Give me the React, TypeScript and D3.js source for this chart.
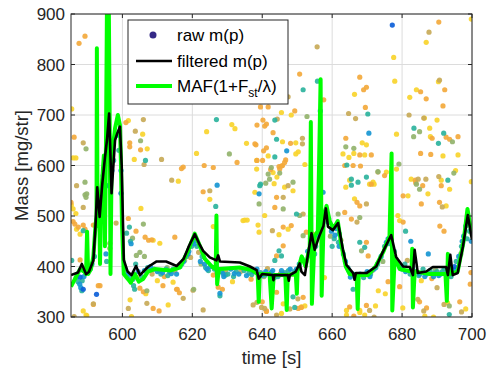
import React from 'react'
import * as d3 from 'd3'

type Pt = [number, number]

// ---- axes ----
const xTicks = [600, 620, 640, 660, 680, 700]
const yTicks = [300, 400, 500, 600, 700, 800, 900]

// ---- raw m(p) samples, grouped by marker colour ----
const yellowPts: Pt[] = [
  [585.5, 712], [585.9, 615], [586.7, 615], [585.4, 522], [586.7, 505], [586.9, 474], [588.8, 312], [589.6, 304],
  [601.7, 689], [605.8, 662], [607.1, 633], [603.4, 612], [605.3, 515], [608.8, 452], [610.7, 446], [602.2, 334],
  [602.6, 301], [606.7, 346], [613.1, 324], [616.0, 569], [621.2, 624], [624.1, 667], [625.0, 533], [626.0, 479],
  [631.3, 681], [632.2, 673], [635.5, 644], [641.7, 619], [638.4, 610], [635.0, 492], [635.7, 492], [645.5, 705],
  [648.3, 700], [645.8, 647], [649.6, 645], [650.3, 627], [649.6, 623], [652.2, 602], [638.4, 593], [643.1, 586],
  [644.2, 577], [646.4, 557], [648.8, 550], [644.8, 463], [647.4, 474], [646.0, 326], [652.2, 322], [663.1, 623],
  [664.8, 616], [666.2, 624], [668.6, 645], [669.8, 641], [669.3, 621], [666.4, 741], [677.6, 814], [677.9, 767],
  [678.4, 662], [675.5, 587], [672.0, 563], [665.0, 571], [686.9, 844], [699.8, 890], [690.4, 766], [684.1, 750],
  [682.2, 735], [686.4, 694], [690.0, 690], [687.9, 674], [688.1, 657], [691.7, 619], [696.0, 621], [695.3, 590],
  [691.2, 571], [699.8, 568], [663.9, 557], [670.7, 563], [666.4, 534], [664.1, 313], [667.9, 313], [664.1, 304],
  [667.9, 309], [669.3, 304], [678.4, 593], [671.7, 567], [682.6, 573], [687.4, 544], [681.7, 540], [693.6, 553],
  [692.6, 520], [678.8, 501], [679.3, 491], [673.2, 352], [672.4, 322], [680.2, 318], [686.5, 302], [693.0, 328],
  [645.5, 307], [651.2, 320], [585.9, 514], [587.9, 464], [589.8, 303], [643.4, 564], [637.9, 547], [640.7, 501],
  [639.1, 468], [614.5, 369], [634.5, 491], [638.8, 482], [698.2, 316], [689.0, 300], [675.2, 346],
  [610.0, 372], [631.5, 370], [657.8, 378], [685.5, 372], [604.2, 378],
]

const orangePts: Pt[] = [
  [589.3, 856], [587.6, 842], [586.2, 656], [601.0, 685], [602.1, 645], [602.1, 637], [605.2, 631], [585.3, 527],
  [585.9, 489], [588.8, 482], [591.7, 482], [587.9, 413], [593.6, 362], [591.7, 325], [601.7, 495], [603.9, 470],
  [606.5, 458], [607.5, 452], [608.4, 453], [605.0, 357], [606.0, 350], [608.8, 317], [610.5, 312], [611.6, 362],
  [615.5, 355], [616.3, 348], [616.9, 594], [623.1, 548], [623.4, 600], [617.4, 597], [626.0, 596], [615.0, 458],
  [628.6, 355], [627.4, 359], [632.8, 606], [638.5, 680], [641.2, 682], [639.5, 716], [638.2, 641], [641.2, 635],
  [638.5, 610], [650.7, 781], [657.6, 730], [641.7, 716], [649.3, 708], [640.2, 690], [640.7, 678], [643.1, 665],
  [648.1, 644], [637.9, 643], [640.4, 629], [640.1, 610], [646.7, 611], [646.4, 606], [644.8, 598], [645.5, 599],
  [642.4, 592], [645.0, 593], [645.8, 600], [644.1, 537], [643.6, 517], [648.3, 481], [646.0, 478], [652.6, 468],
  [654.5, 464], [646.0, 441], [644.1, 421], [644.1, 349], [651.7, 339], [651.2, 319], [650.3, 317], [641.2, 312],
  [663.9, 654], [667.9, 621], [671.2, 621], [666.0, 600], [668.1, 599], [667.9, 775], [669.0, 750], [669.8, 755],
  [669.5, 715], [675.0, 580], [690.5, 884], [692.2, 750], [685.3, 746], [686.9, 732], [691.7, 718], [688.6, 654],
  [692.6, 656], [693.6, 652], [696.0, 657], [685.3, 624], [688.2, 622], [683.8, 571], [683.9, 566], [691.2, 560],
  [685.9, 560], [680.3, 540], [685.5, 524], [690.7, 527], [680.3, 488], [667.1, 527], [667.9, 520], [663.6, 507],
  [665.5, 494], [669.8, 448], [670.3, 421], [665.0, 320], [666.2, 302], [669.8, 323], [679.3, 360], [685.0, 330],
  [687.0, 318], [690.8, 480], [692.0, 470], [699.7, 388], [699.5, 365], [696.5, 330], [663.6, 600], [671.2, 563],
  [586.4, 484], [587.4, 478], [589.3, 474], [593.1, 362], [615.7, 355], [640.0, 330], [641.2, 311], [676.0, 370],
  [612.0, 380], [636.8, 375], [688.5, 376], [626.0, 383],
]

const khakiPts: Pt[] = [
  [588.8, 645], [606.0, 691], [603.7, 668], [606.2, 602], [611.2, 612], [586.2, 301], [598.2, 486], [607.0, 327],
  [617.4, 337], [623.1, 314], [614.1, 571], [625.0, 550], [655.7, 835], [647.4, 736], [644.3, 692], [651.5, 654],
  [651.5, 643], [664.7, 703], [666.7, 693], [687.7, 864], [690.7, 769], [682.0, 700], [690.5, 578], [686.8, 573],
  [647.4, 560], [646.0, 537], [651.7, 504], [642.9, 471], [650.2, 336], [647.9, 316], [644.1, 304], [637.4, 324],
  [640.7, 317], [638.5, 329], [639.8, 319], [669.8, 524], [667.1, 488], [673.1, 587], [684.6, 573], [691.5, 518],
  [620.2, 353], [670.7, 313], [690.0, 358], [692.0, 325], [588.8, 517], [586.9, 560], [601.7, 317], [686.2, 694],
  [591.7, 326], [672.0, 300], [684.5, 335], [686.2, 312], [629.5, 392], [641.5, 396], [660.0, 478], [697.0, 310],
  [619.5, 418], [621.8, 428], [633.8, 390], [645.2, 386], [652.5, 410], [662.5, 452], [681.5, 412], [692.8, 378],
  [608.5, 385], [615.0, 392],
]

const olivePts: Pt[] = [
  [589.6, 633], [605.2, 649], [630.6, 623], [652.8, 697], [642.6, 596], [641.7, 583], [645.0, 585], [641.0, 565],
  [648.8, 567], [666.2, 634], [663.9, 637], [673.1, 588], [679.1, 603], [685.0, 667], [683.3, 657], [694.4, 647],
  [694.8, 585], [589.3, 542], [589.6, 537], [589.3, 567], [589.8, 544], [596.4, 446], [596.4, 436], [602.9, 456],
  [606.0, 484], [607.0, 352], [620.4, 355], [646.0, 514], [650.7, 501], [651.7, 461], [661.7, 504], [667.9, 497],
  [668.4, 431], [639.1, 524], [642.1, 573], [684.1, 563], [685.0, 553], [604.0, 422], [605.0, 428], [606.3, 420],
  [693.5, 322], [655.5, 455], [612.8, 398], [622.5, 405], [636.0, 395], [671.5, 392], [689.5, 395], [617.8, 412],
  [627.0, 388], [640.5, 380], [648.6, 385], [674.5, 410], [696.8, 425], [659.5, 460],
]

const tealPts: Pt[] = [
  [606.6, 610], [626.9, 691], [651.7, 750], [655.8, 767], [643.6, 690], [644.1, 652], [643.6, 617], [639.5, 563],
  [664.2, 601], [665.5, 561], [670.2, 702], [683.4, 674], [691.9, 664], [690.4, 644], [693.1, 571], [601.2, 466],
  [602.3, 450], [603.0, 375], [603.2, 362], [603.5, 355], [626.7, 519], [639.3, 560], [649.8, 504], [644.8, 431],
  [645.5, 421], [643.6, 412], [665.5, 573], [667.4, 567], [669.8, 577], [667.9, 448], [669.3, 438], [649.3, 319],
  [648.8, 340], [666.0, 355], [588.8, 471], [585.5, 412], [588.4, 352], [595.5, 410], [602.0, 478], [693.5, 305],
  [586.8, 378], [587.3, 370], [588.5, 372], [590.8, 395], [592.0, 420], [594.5, 580], [597.5, 610], [599.0, 630],
  [600.8, 395], [602.2, 380], [603.8, 405], [605.5, 380], [607.2, 398], [609.0, 395], [610.5, 392], [612.5, 395],
  [614.5, 395], [616.5, 400], [618.3, 420], [619.8, 440], [621.3, 440], [622.8, 420], [624.6, 392], [626.3, 395],
  [628.3, 390], [630.2, 385], [632.5, 390], [634.8, 392], [637.0, 384], [639.5, 388], [642.0, 385], [644.5, 380],
  [646.5, 388], [649.2, 390], [651.4, 415], [653.8, 455], [655.3, 440], [656.8, 480], [659.0, 495], [660.6, 455],
  [662.0, 465], [663.2, 425], [664.5, 398], [667.0, 380], [669.0, 378], [671.0, 385], [673.0, 405], [675.0, 440],
  [677.8, 430], [679.3, 400], [680.8, 405], [682.3, 385], [684.0, 390], [686.0, 395], [688.0, 392], [690.0, 390],
  [692.0, 395], [694.0, 380], [695.5, 410], [697.0, 440], [698.2, 480], [699.3, 470], [627.9, 342], [681.0, 470],
  [611.0, 385], [613.0, 382], [617.0, 405], [620.0, 448], [623.8, 398], [629.5, 383], [631.8, 380], [636.2, 387],
  [640.8, 383], [643.5, 378], [647.5, 392], [655.0, 425], [657.0, 470], [660.0, 440], [661.8, 448], [672.5, 398],
  [676.5, 445], [684.8, 382], [689.2, 387], [691.5, 390], [695.0, 392], [698.6, 455],
]

const bluePts: Pt[] = [
  [596.0, 759], [647.0, 629], [656.6, 708], [670.5, 664], [627.1, 561], [639.1, 544], [657.4, 547], [595.3, 425],
  [602.5, 445], [627.9, 347], [662.0, 440], [587.8, 365], [588.1, 358], [589.0, 380], [591.3, 405], [593.2, 505],
  [594.0, 520], [595.8, 560], [597.0, 590], [598.5, 660], [599.6, 590], [601.5, 385], [604.5, 390], [606.3, 392],
  [608.0, 400], [611.5, 388], [613.5, 390], [615.5, 385], [617.5, 410], [619.0, 430], [620.5, 445], [622.3, 410],
  [623.5, 405], [625.2, 400], [629.0, 380], [631.0, 395], [633.3, 385], [635.5, 382], [638.5, 395], [641.0, 390],
  [643.0, 392], [645.5, 392], [648.0, 395], [650.6, 405], [653.0, 430], [656.0, 462], [658.3, 510], [659.8, 470],
  [661.3, 475], [663.8, 410], [666.0, 385], [668.0, 385], [670.0, 390], [672.0, 395], [674.0, 420], [676.0, 455],
  [678.5, 410], [680.0, 395], [683.0, 398], [685.0, 385], [687.0, 385], [689.0, 380], [691.0, 385], [693.0, 388],
  [694.8, 395], [696.2, 420], [697.6, 460], [698.8, 500], [699.8, 450], [682.5, 450], [687.5, 425], [665.2, 379],
  [610.0, 390], [614.0, 386], [618.8, 425], [621.0, 452], [624.2, 395], [628.8, 386], [632.0, 386], [637.5, 390],
  [639.8, 382], [642.5, 388], [646.0, 384], [649.8, 395], [654.5, 448], [658.8, 488], [660.8, 462], [664.8, 392],
  [670.8, 380], [675.5, 448], [681.0, 390], [686.5, 380], [690.5, 382], [694.2, 387], [697.2, 450],
]

const navyPts: Pt[] = [
  [677.2, 878], [599.6, 545], [592.6, 345], [587.9, 379], [588.8, 355], [595.0, 560], [657.5, 500], [695.0, 400],
]

// ---- filtered m(p) ----
const filteredLine: Pt[] = [
  [585.3, 383], [587.3, 388], [588.4, 405], [589.6, 385], [590.4, 389], [591.7, 412], [592.3, 480], [592.8, 557],
  [593.5, 498], [594.2, 560], [595.0, 615], [595.6, 651], [596.2, 703], [596.5, 640], [596.9, 545], [597.9, 650],
  [598.6, 665], [599.3, 677], [599.8, 600], [600.4, 413], [601.5, 390], [602.6, 383], [603.9, 401], [605.0, 383],
  [607.3, 399], [609.8, 410], [612.5, 410], [615.5, 401], [617.5, 415], [619.0, 440], [620.7, 464], [622.0, 445],
  [623.1, 431], [625.0, 418], [626.9, 412], [627.4, 422], [627.9, 410], [633.6, 408], [636.5, 400], [638.4, 393],
  [639.0, 376], [640.0, 385], [643.0, 383], [643.2, 373], [643.5, 383], [647.3, 383], [647.6, 372], [647.9, 383],
  [649.6, 390], [650.7, 406], [651.2, 390], [652.2, 383], [653.0, 420], [654.1, 466], [655.0, 433], [656.4, 462],
  [657.5, 480], [658.2, 515], [658.8, 479], [660.2, 472], [661.7, 486], [663.1, 433], [664.1, 403], [666.0, 387],
  [666.4, 374], [666.8, 387], [669.8, 387], [672.6, 400], [674.5, 429], [676.9, 462], [678.3, 419], [680.3, 400],
  [682.2, 399], [683.1, 383], [683.6, 433], [684.5, 387], [686.9, 390], [688.8, 399], [692.6, 399], [693.1, 383],
  [693.8, 423], [694.5, 383], [695.9, 387], [697.4, 439], [698.8, 502], [700.0, 453],
]

// ---- MAF(1+Fst/lambda) ----
const mafLine: Pt[] = [
  [585.3, 360], [586.4, 375], [587.9, 395], [589.0, 390], [589.6, 385], [589.9, 469], [590.2, 385], [591.0, 395],
  [591.7, 420], [592.3, 480], [592.6, 500], [592.7, 832], [592.9, 480], [593.4, 520], [593.6, 405], [593.9, 540],
  [594.3, 580], [594.7, 620], [595.0, 440], [595.3, 640], [595.6, 930], [595.9, 680], [596.1, 930], [596.4, 660],
  [596.6, 385], [596.9, 600], [597.3, 637], [597.9, 674], [598.7, 700], [599.3, 680], [599.6, 600], [599.9, 480],
  [600.4, 385], [601.6, 375], [602.4, 368], [603.6, 385], [604.7, 370], [605.9, 375], [607.3, 390], [609.3, 395],
  [613.6, 392], [616.4, 398], [618.7, 430], [620.7, 465], [622.2, 440], [623.6, 415], [625.6, 400], [626.7, 395],
  [626.9, 501], [627.1, 365], [627.6, 395], [633.6, 398], [637.0, 393], [638.7, 385], [639.0, 330], [639.3, 385],
  [642.1, 385], [642.7, 317], [643.3, 383], [646.6, 383], [647.0, 314], [647.3, 383], [649.6, 385], [649.9, 346],
  [650.1, 390], [651.3, 420], [652.4, 400], [653.6, 440], [653.9, 686], [654.2, 326], [655.0, 460], [655.9, 470],
  [656.7, 771], [657.0, 342], [657.6, 500], [658.4, 520], [659.3, 490], [660.4, 475], [661.6, 490], [662.7, 440],
  [663.9, 400], [665.0, 385], [667.0, 383], [667.3, 316], [667.6, 383], [670.2, 383], [672.4, 400], [674.7, 430],
  [676.4, 460], [677.0, 624], [677.2, 313], [677.9, 420], [679.3, 395], [682.7, 390], [682.9, 435], [683.1, 319],
  [683.6, 390], [687.9, 385], [692.4, 385], [692.8, 332], [693.1, 425], [693.6, 385], [695.9, 390], [697.6, 450],
  [698.7, 514], [700.0, 460],
]

const COLORS: [Pt[], string][] = [
  [yellowPts, '#f8d42c'],
  [orangePts, '#f3a93c'],
  [khakiPts, '#c8aa58'],
  [olivePts, '#93b36c'],
  [tealPts, '#2cb39d'],
  [bluePts, '#1796d3'],
  [navyPts, '#0d5fd8'],
]

const W = 487
const H = 374
const margin = { top: 14, right: 15, bottom: 57, left: 71 }
const FONT = '"Liberation Sans", Arial, Helvetica, sans-serif'
const INK = '#262626'

export default function App() {
  const innerW = W - margin.left - margin.right
  const innerH = H - margin.top - margin.bottom

  const x = d3.scaleLinear().domain([585.3, 700]).range([0, innerW])
  const y = d3.scaleLinear().domain([300, 900]).range([innerH, 0])

  const line = d3
    .line<Pt>()
    .x((d) => x(d[0]))
    .y((d) => y(d[1]))

  const tickLen = 4

  return (
    <div style={{ position: 'absolute', left: 0, top: 0 }}>
      <svg width={W} height={H} style={{ display: 'block', background: '#fff' }}>
        <defs>
          <clipPath id="plot-clip">
            <rect x={0} y={0} width={innerW} height={innerH} />
          </clipPath>
        </defs>
        <g transform={`translate(${margin.left},${margin.top})`}>
          {/* grid */}
          {xTicks.map((t) => (
            <line key={'gx' + t} x1={x(t)} x2={x(t)} y1={0} y2={innerH} stroke="#dcdcdc" strokeWidth={1} />
          ))}
          {yTicks.map((t) => (
            <line key={'gy' + t} x1={0} x2={innerW} y1={y(t)} y2={y(t)} stroke="#dcdcdc" strokeWidth={1} />
          ))}

          <g clipPath="url(#plot-clip)">
            {/* raw samples */}
            {COLORS.map(([pts, color], gi) =>
              pts.map((d, i) => (
                <circle key={gi + '-' + i} cx={x(d[0])} cy={y(d[1])} r={2.6} fill={color} opacity={0.92} />
              )),
            )}
            {/* MAF */}
            <path d={line(mafLine) ?? ''} fill="none" stroke="#00ff00" strokeWidth={4} strokeLinejoin="round" />
            {/* filtered */}
            <path d={line(filteredLine) ?? ''} fill="none" stroke="#000" strokeWidth={2.6} strokeLinejoin="round" />
          </g>

          {/* frame + ticks */}
          <rect x={0} y={0} width={innerW} height={innerH} fill="none" stroke={INK} strokeWidth={1} />
          {xTicks.map((t) => (
            <g key={'tx' + t}>
              <line x1={x(t)} x2={x(t)} y1={innerH} y2={innerH - tickLen} stroke={INK} />
              <line x1={x(t)} x2={x(t)} y1={0} y2={tickLen} stroke={INK} />
              <text
                x={x(t)}
                y={innerH + 23}
                textAnchor="middle"
                fontFamily={FONT}
                fontSize={17}
                fill={INK}
              >
                {t}
              </text>
            </g>
          ))}
          {yTicks.map((t) => (
            <g key={'ty' + t}>
              <line x1={0} x2={tickLen} y1={y(t)} y2={y(t)} stroke={INK} />
              <line x1={innerW} x2={innerW - tickLen} y1={y(t)} y2={y(t)} stroke={INK} />
              <text
                x={-6}
                y={y(t) + 6}
                textAnchor="end"
                fontFamily={FONT}
                fontSize={17}
                fill={INK}
              >
                {t}
              </text>
            </g>
          ))}

          {/* axis labels */}
          <text
            x={innerW / 2}
            y={innerH + 47}
            textAnchor="middle"
            fontFamily={FONT}
            fontSize={18.5}
            fill={INK}
          >
            time [s]
          </text>
          <text
            transform={`translate(${-43},${innerH / 2}) rotate(-90)`}
            textAnchor="middle"
            fontFamily={FONT}
            fontSize={18.5}
            fill={INK}
          >
            Mass [mg/str]
          </text>
        </g>

        {/* legend */}
        <g transform="translate(128,20)">
          <rect x={0} y={0} width={160} height={84} fill="#fff" stroke={INK} strokeWidth={1} />
          <circle cx={25} cy={15} r={3.5} fill="#352a87" />
          <text x={49} y={21} fontFamily={FONT} fontSize={17} fill="#000">
            raw m(p)
          </text>
          <line x1={8} x2={44} y1={41} y2={41} stroke="#000" strokeWidth={2.6} />
          <text x={49} y={47} fontFamily={FONT} fontSize={17} fill="#000">
            filtered m(p)
          </text>
          <line x1={8} x2={44} y1={66} y2={66} stroke="#00ff00" strokeWidth={4} />
          <text x={49} y={72} fontFamily={FONT} fontSize={17} fill="#000">
            MAF(1+F
            <tspan fontSize={12} dy={5}>
              st
            </tspan>
            <tspan dy={-5}>/λ)</tspan>
          </text>
        </g>
      </svg>
    </div>
  )
}
